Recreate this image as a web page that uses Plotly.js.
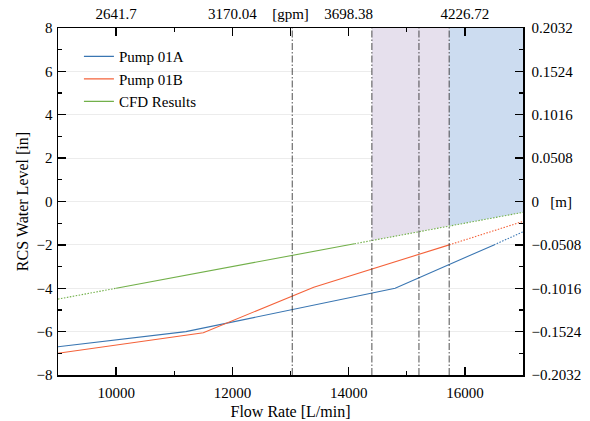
<!DOCTYPE html>
<html>
<head>
<meta charset="utf-8">
<script src="https://cdn.plot.ly/plotly-3.0.1.min.js"></script>
<style>html,body{margin:0;padding:0;background:#fff;}#chart{width:590px;height:421px;}</style>
</head>
<body>
<div id="chart"></div>
<script>
// ---- data ----
const pumpA_flow = [9000, 11200, 14800, 16500, 17000];
const pumpA_level = [-6.7, -6.0, -4.0, -2.0, -1.4];
const pumpA_solidEnd = 3; // index where the dotted extension starts

const pumpB_flow = [9000, 11500, 13400, 15730, 17000];
const pumpB_level = [-7.0, -6.05, -3.95, -2.0, -0.92];
const pumpB_solidEnd = 3;

const cfd_flow = [9000, 10000, 14100, 17000];
const cfd_level = [-4.5, -4.0, -1.95, -0.5];

const markerFlows = [13030, 14400, 15210, 15730];
const purpleBand = [14400, 15730];
const blueBand = [15730, 17000];

const bottomTicks = [10000, 12000, 14000, 16000];
const bottomTickText = ['10000', '12000', '14000', '16000'];
const gpmTickVals = [10000, 12000, 13000, 14000, 16000];
const gpmTickText = ['2641.7', '3170.04', '[gpm]', '3698.38', '4226.72'];
const leftTicks = [-8, -6, -4, -2, 0, 2, 4, 6, 8];
const leftTickText = ['\u22128', '\u22126', '\u22124', '\u22122', '0', '2', '4', '6', '8'];
const rightTickVals = [-0.2032, -0.1524, -0.1016, -0.0508, 0, 0.0508, 0.1016, 0.1524, 0.2032];
const rightTickText = ['\u22120.2032', '\u22120.1524', '\u22120.1016', '\u22120.0508', '0   [m]', '0.0508', '0.1016', '0.1524', '0.2032'];

const cBlue = '#3a76b2', cOrange = '#f4623a', cGreen = '#72b04a';
const dotted = '1.5px,1.5px';

function interpCFD(x) {
  for (let i = 0; i < cfd_flow.length - 1; i++) {
    if (x >= cfd_flow[i] && x <= cfd_flow[i + 1]) {
      const t = (x - cfd_flow[i]) / (cfd_flow[i + 1] - cfd_flow[i]);
      return cfd_level[i] + t * (cfd_level[i + 1] - cfd_level[i]);
    }
  }
  return cfd_level[cfd_level.length - 1];
}
function band(range, color) {
  const xs = [range[0], range[1], range[1], range[0], range[0]];
  const ys = [interpCFD(range[0]), interpCFD(range[1]), 8, 8, interpCFD(range[0])];
  return {x: xs, y: ys, mode: 'lines', fill: 'toself', fillcolor: color,
          line: {width: 0}, hoverinfo: 'skip', showlegend: false};
}

const traces = [
  band(purpleBand, 'rgb(230,224,237)'),
  band(blueBand, 'rgb(204,220,240)'),
  {x: cfd_flow.slice(0, 2), y: cfd_level.slice(0, 2), mode: 'lines',
   line: {color: cGreen, width: 1.1, dash: dotted}, showlegend: false},
  {x: cfd_flow.slice(1, 3), y: cfd_level.slice(1, 3), mode: 'lines', name: 'CFD Results',
   line: {color: cGreen, width: 1.1}, legendrank: 3},
  {x: cfd_flow.slice(2), y: cfd_level.slice(2), mode: 'lines',
   line: {color: cGreen, width: 1.1, dash: dotted}, showlegend: false},
  {x: pumpA_flow.slice(0, pumpA_solidEnd + 1), y: pumpA_level.slice(0, pumpA_solidEnd + 1),
   mode: 'lines', name: 'Pump 01A', line: {color: cBlue, width: 1.1}, legendrank: 1},
  {x: pumpA_flow.slice(pumpA_solidEnd), y: pumpA_level.slice(pumpA_solidEnd), mode: 'lines',
   line: {color: cBlue, width: 1.1, dash: dotted}, showlegend: false},
  {x: pumpB_flow.slice(0, pumpB_solidEnd + 1), y: pumpB_level.slice(0, pumpB_solidEnd + 1),
   mode: 'lines', name: 'Pump 01B', line: {color: cOrange, width: 1.1}, legendrank: 2},
  {x: pumpB_flow.slice(pumpB_solidEnd), y: pumpB_level.slice(pumpB_solidEnd), mode: 'lines',
   line: {color: cOrange, width: 1.1, dash: dotted}, showlegend: false},
  // invisible traces to activate secondary axes
  {x: [9000, 17000], y: [0, 0], xaxis: 'x2', yaxis: 'y', mode: 'lines',
   line: {width: 0}, hoverinfo: 'skip', showlegend: false},
  {x: [9000, 17000], y: [0, 0], xaxis: 'x', yaxis: 'y2', mode: 'lines',
   line: {width: 0}, hoverinfo: 'skip', showlegend: false}
];

const FAM = 'Liberation Serif';
function fnt(size) { return {family: FAM, size: size, color: '#000'}; }

const shapes = markerFlows.map(v => ({
  type: 'line', xref: 'x', yref: 'paper', x0: v, x1: v, y0: 0, y1: 1,
  line: {color: '#222', width: 0.8, dash: '7px,2px,1.5px,2px'}
}));

const axisCommon = {
  showline: true, linecolor: '#000', linewidth: 1.5, ticks: 'inside',
  tickcolor: '#000', tickwidth: 1.3, ticklen: 8, zeroline: false
};

const layout = {
  width: 590, height: 421,
  margin: {l: 58, r: 67, t: 28, b: 46},
  paper_bgcolor: '#fff', plot_bgcolor: '#fff',
  font: fnt(15),
  showlegend: true,
  legend: {x: 0.045, y: 0.965, xanchor: 'left', yanchor: 'top',
           bgcolor: 'rgba(0,0,0,0)', font: fnt(15),
           tracegroupgap: 0, traceorder: 'normal'},
  shapes: shapes,
  xaxis: Object.assign({}, axisCommon, {
    tickfont: fnt(15),
    range: [9000, 17000], tickmode: 'array', tickvals: bottomTicks, ticktext: bottomTickText,
    showgrid: false, ticklabelstandoff: 3,
    minor: {tickvals: [11000, 13000, 15000], ticks: 'inside', ticklen: 4, tickcolor: '#000', tickwidth: 1.3, showgrid: false},
    title: {text: 'Flow Rate [L/min]', font: fnt(16), standoff: 6}
  }),
  xaxis2: Object.assign({}, axisCommon, {
    tickfont: fnt(15),
    overlaying: 'x', side: 'top', range: [9000, 17000], tickmode: 'array',
    tickvals: gpmTickVals, ticktext: gpmTickText, showgrid: false, ticklabelstandoff: 2,
    minor: {tickvals: [11000, 15000], ticks: 'inside', ticklen: 4, tickcolor: '#000', tickwidth: 1.3, showgrid: false}
  }),
  yaxis: Object.assign({}, axisCommon, {
    tickfont: fnt(15),
    range: [-8, 8], tickmode: 'array', tickvals: leftTicks, ticktext: leftTickText,
    showgrid: true, gridcolor: '#ececec', gridwidth: 1, ticklabelstandoff: 1,
    minor: {dtick: 1, ticks: 'inside', ticklen: 4, tickcolor: '#000', tickwidth: 1.3, showgrid: false},
    title: {text: 'RCS Water Level [in]', font: fnt(16), standoff: 4}
  }),
  yaxis2: Object.assign({}, axisCommon, {
    tickfont: fnt(15),
    overlaying: 'y', side: 'right', range: [-0.2032, 0.2032], tickmode: 'array',
    tickvals: rightTickVals, ticktext: rightTickText, showgrid: false, ticklabelstandoff: 4,
    minor: {dtick: 0.0254, tick0: 0.0254, ticks: 'inside', ticklen: 4, tickcolor: '#000', tickwidth: 1.3, showgrid: false}
  })
};

Plotly.newPlot('chart', traces, layout, {displayModeBar: false, staticPlot: true});
</script>
</body>
</html>
